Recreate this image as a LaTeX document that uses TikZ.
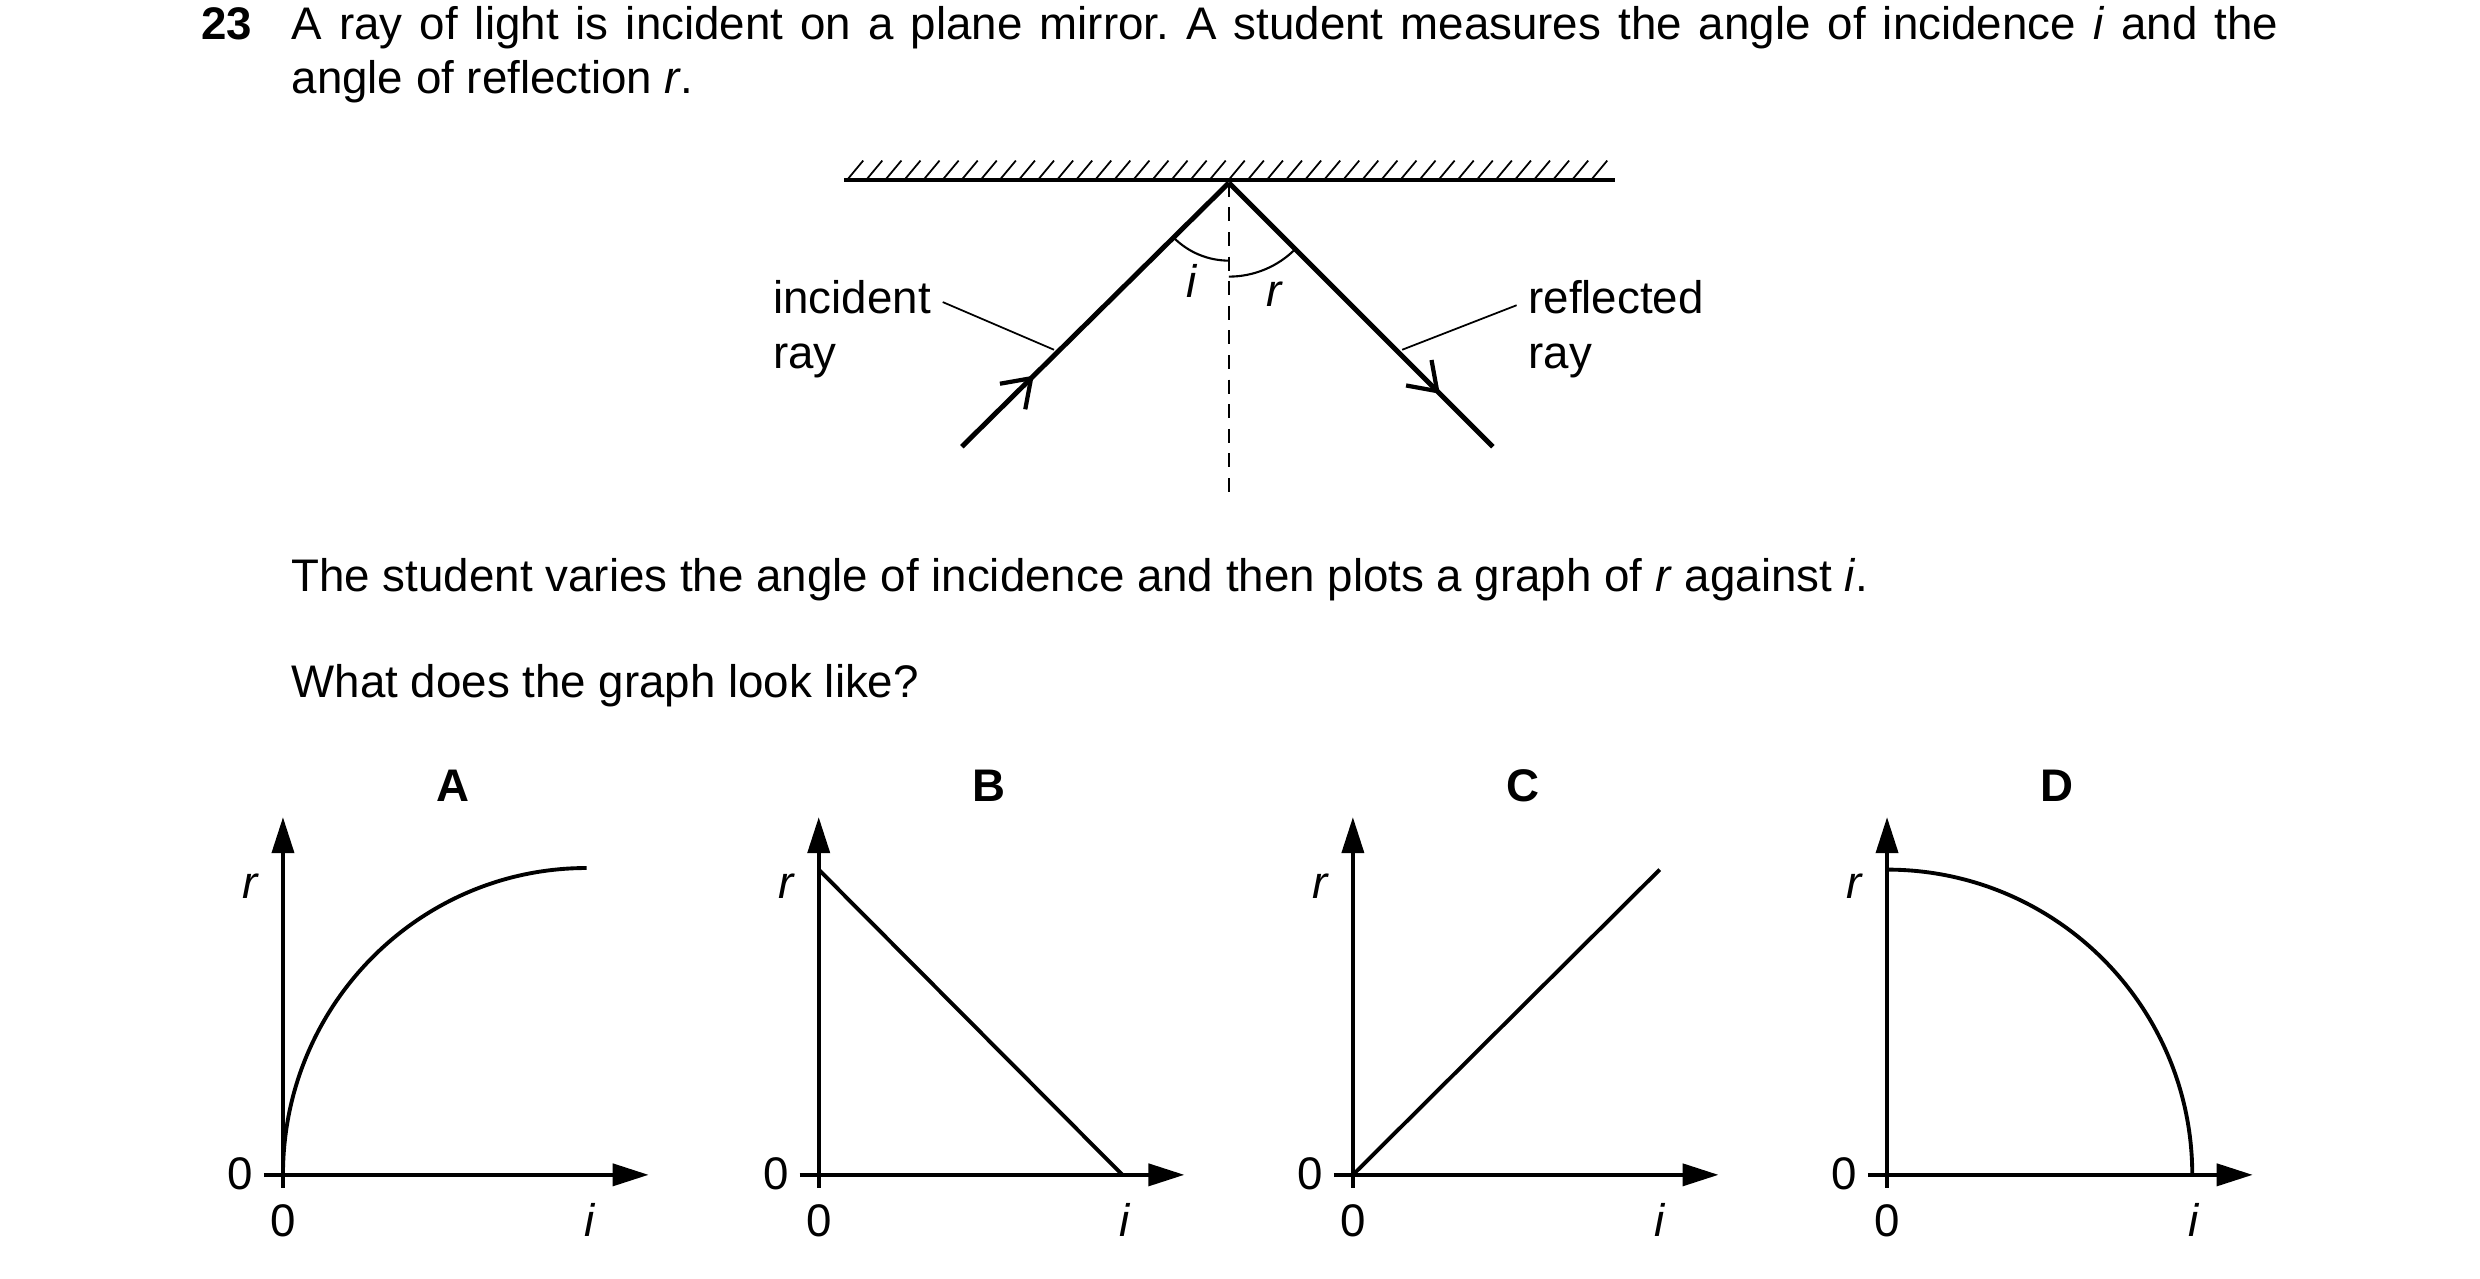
\documentclass[tikz,border=0pt]{standalone}
\usepackage{fontspec}
\setmainfont{Liberation Sans}
\frenchspacing
\usetikzlibrary{arrows.meta,decorations.markings,calc}
\tikzset{
  txt/.style={anchor=base west,inner sep=0pt,font=\fontsize{13}{16}\selectfont},
  lbl/.style={anchor=base,inner sep=0pt,font=\fontsize{13}{16}\selectfont},
  ray/.style={line width=1.4pt},
  axis/.style={line width=1.1pt,-{Triangle[length=0.36cm,width=0.22cm]}},
  curve/.style={line width=1.1pt},
  midbarb/.style={postaction={decorate},decoration={markings,
    mark=at position #1 with {\arrow{Straight Barb[length=0.26cm,width=0.36cm,line width=1.2pt]}}}}
}
\begin{document}
\begin{tikzpicture}[x=0.0159cm,y=-0.0159cm]
\useasboundingbox (4,3) rectangle (1564,807.5);
% question text
\node[txt,font=\fontsize{13}{16}\selectfont\bfseries] (num) at (130,28) {23};
\node[txt] (q1) at (187,28) {\makebox[19.87cm][s]{A ray of light is incident on a plane mirror. A student measures the angle of incidence \textit{i} and the}};
\node[txt] (q2) at (187,62) {angle of reflection \textit{r}.};
\node[txt] (q3) at (187,375) {The student varies the angle of incidence and then plots a graph of \textit{r} against \textit{i}.};
\node[txt] (q4) at (187,442) {What does the graph look like?};
%
% mirror
\draw[line width=1.1pt] (535,116) -- (1020,116);
\foreach \x in {537,549,...,1010}
  \draw[line width=0.5pt] (\x,116) -- ++(10,-12);
\coordinate (P) at (777,118);
\coordinate (inc) at (609,284);
\coordinate (refl) at (943,284);
\coordinate (nrm) at (777,315);
\draw[ray,midbarb=0.27] (inc) -- (P);
\draw[ray,midbarb=0.8] (P) -- (refl);
\draw[line width=0.6pt,dash pattern=on 4pt off 3pt] (P) -- (nrm);
\draw[line width=0.6pt] ($(P)+(-34.6,34.6)$) arc[start angle=135,end angle=90,radius=49];
\draw[line width=0.6pt] ($(P)+(0,59)$) arc[start angle=90,end angle=45,radius=59];
\node[lbl] (li) at (754,190) {\textit{i}};
\node[lbl] (lr) at (806,196) {\textit{r}};
\node[txt] (tinc) at (490,200) {incident};
\node[txt] (tinc2) at (490,235) {ray};
\node[txt] (tref) at (965,200) {reflected};
\node[txt] (tref2) at (965,235) {ray};
\draw[line width=0.5pt] (597,193) -- (667,223);
\draw[line width=0.5pt] (958,195) -- (886,223);
%
% graphs
\foreach \ox/\name in {182/A,519/B,855/C,1191/D}{
  \begin{scope}[shift={(\ox,742)}]
    \draw[axis] (0,8) -- (0,-225);
    \draw[axis] (-12,0) -- (230,0);
    \node[lbl,font=\fontsize{13}{16}\selectfont\bfseries] at (107,-235) {\name};
    \node[lbl] at (-20,-174) {\textit{r}};
    \node[lbl] at (-27,9) {0};
    \node[lbl] at (0,39) {0};
    \node[lbl] at (193,39) {\textit{i}};
  \end{scope}
}
\draw[curve] (182,742) arc[start angle=180,end angle=270,x radius=191,y radius=193];
\draw[curve] (519,550) -- (710,742);
\draw[curve] (855,742) -- (1048,550);
\draw[curve] (1191,550) arc[start angle=270,end angle=360,x radius=192,y radius=192];
\end{tikzpicture}
\end{document}
